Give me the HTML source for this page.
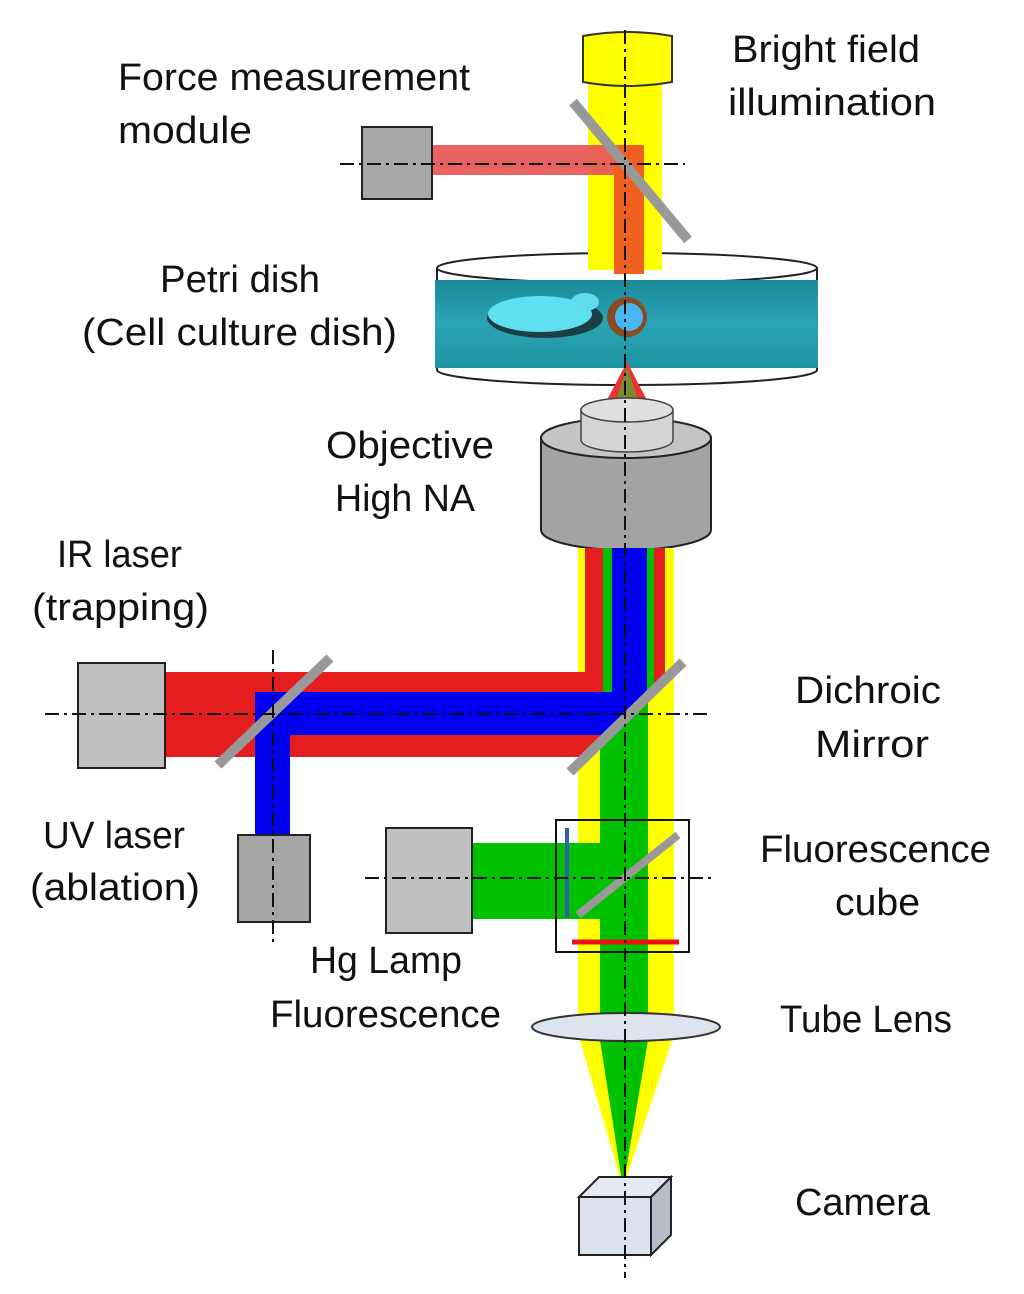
<!DOCTYPE html>
<html><head><meta charset="utf-8"><style>html,body{margin:0;padding:0;background:#fff}svg{display:block}</style></head>
<body>
<svg width="1024" height="1294" viewBox="0 0 1024 1294" xmlns="http://www.w3.org/2000/svg" font-family="Liberation Sans, sans-serif" font-size="38" fill="#111">
<defs>
<linearGradient id="teal" x1="0" y1="0" x2="0" y2="1"><stop offset="0" stop-color="#1a8a9a"/><stop offset="0.5" stop-color="#2aa5b5"/><stop offset="1" stop-color="#1e93a3"/></linearGradient>
</defs>
<!-- bright field lamp -->
<rect x="588" y="80" width="74" height="192" fill="#ffff00"/>
<path d="M583,36 Q627,28 672,36 L672,82 Q627,90 583,82 Z" fill="#ffff00" stroke="#333" stroke-width="2"/>
<!-- force module beam -->
<rect x="432" y="145" width="193" height="30" fill="#e85a5a" opacity="0.95"/>
<rect x="614" y="145" width="30" height="128" fill="#f06020"/>
<rect x="362" y="127" width="70" height="72" fill="#a8a8a8" stroke="#222" stroke-width="2"/>
<line x1="573" y1="102" x2="688" y2="240" stroke="#999" stroke-width="10"/>
<line x1="340" y1="164" x2="685" y2="164" stroke="#111" stroke-width="2" stroke-dasharray="14,5,3,5"/>
<!-- petri dish -->
<path d="M437,268 L437,370 A190,15 0 0 0 817,370 L817,268" fill="#fff" stroke="#222" stroke-width="2"/>
<ellipse cx="627" cy="268" rx="190" ry="15" fill="#fff" stroke="#222" stroke-width="2"/>
<rect x="588" y="250" width="74" height="20" fill="#ffff00"/>
<rect x="614" y="250" width="30" height="24" fill="#f06020"/>
<rect x="435" y="280" width="383" height="88" fill="url(#teal)"/>
<ellipse cx="545" cy="318" rx="58" ry="20" fill="#1b3f45"/>
<ellipse cx="540" cy="314" rx="52" ry="18" fill="#5fe0f0"/>
<ellipse cx="585" cy="302" rx="14" ry="9" fill="#60dcee"/>
<circle cx="627" cy="317" r="20" fill="#8a4a22"/>
<circle cx="629" cy="317" r="14" fill="#4ab8f0"/>
<polygon points="627,362 606,402 648,402" fill="#ee3030"/>
<polygon points="627,366 616,400 638,400" fill="#7a8a30"/>
<!-- objective -->
<path d="M541,438 L541,530 A85,20 0 0 0 711,530 L711,438 Z" fill="#a3a3a3" stroke="#222" stroke-width="2"/>
<ellipse cx="626" cy="438" rx="85" ry="20" fill="#c4c4c4" stroke="#222" stroke-width="2"/>
<path d="M581,410 L581,440 A46,12 0 0 0 673,440 L673,410 Z" fill="#d4d4d4" stroke="#444" stroke-width="1.5"/>
<ellipse cx="627" cy="410" rx="46" ry="12" fill="#e0e0e0" stroke="#444" stroke-width="1.5"/>
<!-- beams below objective -->
<rect x="578" y="548" width="96" height="490" fill="#ffff00"/>
<rect x="585" y="548" width="80" height="124" fill="#e41e1e"/>
<polygon points="165,672 665,672 665,682 585,757 165,757" fill="#e41e1e"/>
<rect x="603" y="548" width="51" height="144" fill="#00c000"/>
<rect x="612" y="548" width="35" height="150" fill="#0000ee"/>
<polygon points="255,692 652,692 608,735 255,735" fill="#0000ee"/>
<rect x="255" y="692" width="35" height="145" fill="#0000ee"/>
<!-- below dichroic -->
<polygon points="600,743 648,696 648,1038 600,1038" fill="#00c000"/>
<line x1="570" y1="772" x2="683" y2="662" stroke="#999" stroke-width="10"/>
<line x1="218" y1="765" x2="330" y2="658" stroke="#999" stroke-width="10"/>
<rect x="78" y="663" width="87" height="105" fill="#c0c0c0" stroke="#222" stroke-width="2"/>
<rect x="238" y="835" width="72" height="87" fill="#a6a6a6" stroke="#222" stroke-width="2"/>
<line x1="45" y1="714" x2="708" y2="714" stroke="#111" stroke-width="2" stroke-dasharray="14,5,3,5"/>
<line x1="273" y1="650" x2="273" y2="945" stroke="#111" stroke-width="2" stroke-dasharray="14,5,3,5"/>
<!-- Hg lamp + cube -->
<rect x="472" y="843" width="128" height="76" fill="#00c000"/>
<rect x="386" y="828" width="86" height="105" fill="#c0c0c0" stroke="#222" stroke-width="2"/>
<line x1="567" y1="828" x2="567" y2="918" stroke="#3060a8" stroke-width="4"/>
<line x1="572" y1="942" x2="679" y2="942" stroke="#ee1010" stroke-width="5"/>
<line x1="578" y1="915" x2="678" y2="835" stroke="#999" stroke-width="8"/>
<rect x="556" y="820" width="133" height="132" fill="none" stroke="#111" stroke-width="2"/>
<line x1="365" y1="878" x2="712" y2="878" stroke="#111" stroke-width="2" stroke-dasharray="14,5,3,5"/>
<!-- tube lens and cone -->
<polygon points="580,1040 672,1040 623,1188" fill="#ffff00"/>
<polygon points="600,1040 648,1040 623,1188" fill="#00c000"/>
<ellipse cx="626" cy="1027" rx="94" ry="14" fill="#dde4ee" stroke="#333" stroke-width="2"/>
<!-- camera -->
<polygon points="579,1197 599,1177 671,1177 651,1197" fill="#e4e9f2" stroke="#222" stroke-width="2"/>
<polygon points="651,1197 671,1177 671,1235 651,1255" fill="#b8bcc6" stroke="#222" stroke-width="2"/>
<rect x="579" y="1197" width="72" height="58" fill="#dbe2ee" stroke="#222" stroke-width="2"/>
<!-- main axis -->
<line x1="625" y1="30" x2="625" y2="1278" stroke="#111" stroke-width="2" stroke-dasharray="14,5,3,5"/>
<!-- labels -->
<g lengthAdjust="spacingAndGlyphs">
<text x="118" y="90" textLength="352" lengthAdjust="spacingAndGlyphs">Force measurement</text>
<text x="118" y="143" textLength="134" lengthAdjust="spacingAndGlyphs">module</text>
<text x="732" y="62" textLength="188" lengthAdjust="spacingAndGlyphs">Bright field</text>
<text x="728" y="115" textLength="208" lengthAdjust="spacingAndGlyphs">illumination</text>
<text x="160" y="292" textLength="160" lengthAdjust="spacingAndGlyphs">Petri dish</text>
<text x="82" y="345" textLength="315" lengthAdjust="spacingAndGlyphs">(Cell  culture dish)</text>
<text x="326" y="458" textLength="168" lengthAdjust="spacingAndGlyphs">Objective</text>
<text x="335" y="511" textLength="140" lengthAdjust="spacingAndGlyphs">High NA</text>
<text x="57" y="567" textLength="125" lengthAdjust="spacingAndGlyphs">IR laser</text>
<text x="32" y="620" textLength="177" lengthAdjust="spacingAndGlyphs">(trapping)</text>
<text x="795" y="703" textLength="146" lengthAdjust="spacingAndGlyphs">Dichroic</text>
<text x="815" y="757" textLength="114" lengthAdjust="spacingAndGlyphs">Mirror</text>
<text x="43" y="848" textLength="142" lengthAdjust="spacingAndGlyphs">UV laser</text>
<text x="30" y="900" textLength="170" lengthAdjust="spacingAndGlyphs">(ablation)</text>
<text x="760" y="862" textLength="231" lengthAdjust="spacingAndGlyphs">Fluorescence</text>
<text x="835" y="915" textLength="85" lengthAdjust="spacingAndGlyphs">cube</text>
<text x="310" y="973" textLength="152" lengthAdjust="spacingAndGlyphs">Hg Lamp</text>
<text x="270" y="1027" textLength="231" lengthAdjust="spacingAndGlyphs">Fluorescence</text>
<text x="780" y="1032" textLength="172" lengthAdjust="spacingAndGlyphs">Tube Lens</text>
<text x="795" y="1215" textLength="135" lengthAdjust="spacingAndGlyphs">Camera</text>
</g>
</svg>
</body></html>
